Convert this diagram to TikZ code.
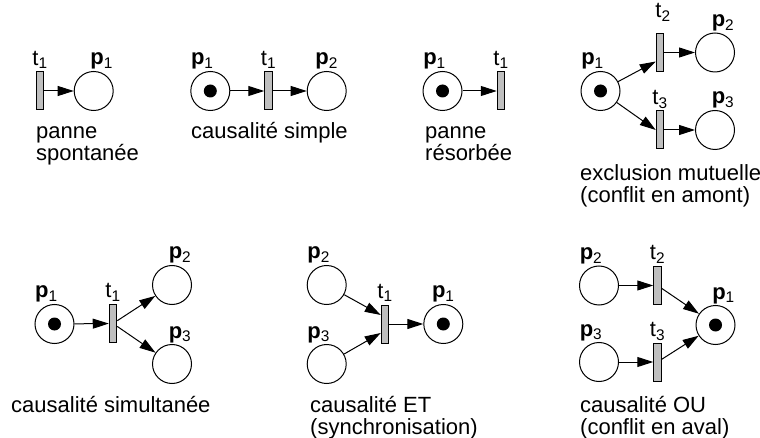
\documentclass[tikz,border=0pt]{standalone}
\usepackage{fontspec}
\setmainfont{Liberation Sans}
\usetikzlibrary{arrows.meta}

\newcommand{\pl}[1]{\textbf{p}\textsubscript{#1}}
\newcommand{\tr}[1]{t\textsubscript{#1}}

\tikzset{
  place/.style={circle, draw, line width=1pt, minimum size=39pt, inner sep=0pt},
  marked/.style={path picture={\fill (path picture bounding box.center) circle (6.5pt);}},
  trans/.style={rectangle, draw, line width=1pt, fill=gray!50, minimum width=7.5pt, minimum height=38pt, inner sep=0pt},
  arc/.style={-{Triangle[length=16pt, width=10pt]}, line width=1pt},
  lab/.style={label={[anchor=base, label distance=6pt]north:#1}},
  labl/.style={label={[anchor=base, label distance=6pt, xshift=-8pt]north:#1}},
  labr/.style={label={[anchor=base, label distance=6pt, xshift=8pt]north:#1}},
  caption/.style={anchor=base west, align=left, inner sep=0pt}
}

\begin{document}
\begin{tikzpicture}[x=1pt, y=-1pt, font=\fontsize{22pt}{22pt}\selectfont]
  \useasboundingbox (0,0) rectangle (760,438);

  % panne spontanee
  \node[trans, lab=\tr{1}] (ta) at (40,91) {};
  \node[place, labr=\pl{1}] (pa) at (93.7,91) {};
  \draw[arc] (ta) -- (pa);
  \node[caption] (ca) at (36,161) {panne\\spontanée};

  % causalite simple
  \node[place, marked, labl=\pl{1}] (pb1) at (210.3,91) {};
  \node[trans, lab=\tr{1}] (tb) at (268.5,91) {};
  \node[place, lab=\pl{2}] (pb2) at (326.7,91) {};
  \draw[arc] (pb1) -- (tb);
  \draw[arc] (tb) -- (pb2);
  \node[caption] (cb) at (191,139) {causalité simple};

  % panne resorbee
  \node[place, marked, labl=\pl{1}] (pc) at (442.5,91) {};
  \node[trans, lab=\tr{1}] (tc) at (501,91) {};
  \draw[arc] (pc) -- (tc);
  \node[caption] (cc) at (425,161) {panne\\résorbée};

  % exclusion mutuelle
  \node[place, marked, labl=\pl{1}] (pd1) at (600.5,91) {};
  \node[trans, label={[anchor=base, label distance=15pt, xshift=3pt]north:\tr{2}}] (td2) at (660,52.5) {};
  \node[trans, lab=\tr{3}] (td3) at (660,130) {};
  \node[place, labr=\pl{2}] (pd2) at (715,52.5) {};
  \node[place, labr=\pl{3}] (pd3) at (715,130) {};
  \draw[arc] (pd1) -- ([yshift=-9pt]td2.west);
  \draw[arc] (pd1) -- (td3.west);
  \draw[arc] (td2) -- (pd2);
  \draw[arc] (td3) -- (pd3);
  \node[caption] (cd) at (580,203) {exclusion mutuelle\\(conflit en amont)};

  % causalite simultanee
  \node[place, marked, labl=\pl{1}] (pe1) at (54.5,324) {};
  \node[trans, lab=\tr{1}] (te) at (113,323.5) {};
  \node[place, labr=\pl{2}] (pe2) at (172,285) {};
  \node[place, labr=\pl{3}] (pe3) at (172,364) {};
  \draw[arc] (pe1) -- (te);
  \draw[arc] (te) -- (pe2);
  \draw[arc] (te) -- (pe3);
  \node[caption] (ce) at (11,412) {causalité simultanée};

  % causalite ET
  \node[place, labl=\pl{2}] (pf2) at (326.7,285) {};
  \node[place, labl=\pl{3}] (pf3) at (326.7,364) {};
  \node[trans, lab=\tr{1}] (tf) at (385,324) {};
  \node[place, marked, lab=\pl{1}] (pf1) at (443.3,324) {};
  \draw[arc] (pf2) -- ([yshift=9pt]tf.west);
  \draw[arc] (pf3) -- ([yshift=-9pt]tf.west);
  \draw[arc] (tf) -- (pf1);
  \node[caption] (cf) at (310,434) {causalité ET\\(synchronisation)};

  % causalite OU
  \node[place, labl=\pl{2}] (pg2) at (599,285.5) {};
  \node[place, labl=\pl{3}] (pg3) at (599,362) {};
  \node[trans, lab=\tr{2}] (tg2) at (657.5,285.5) {};
  \node[trans, lab=\tr{3}] (tg3) at (657.5,362) {};
  \node[place, marked, labr=\pl{1}] (pg1) at (715.5,325) {};
  \draw[arc] (pg2) -- (tg2);
  \draw[arc] (pg3) -- (tg3);
  \draw[arc] (tg2) -- (pg1);
  \draw[arc] (tg3) -- (pg1);
  \node[caption] (cg) at (580,434) {causalité OU\\(conflit en aval)};
\end{tikzpicture}
\end{document}
